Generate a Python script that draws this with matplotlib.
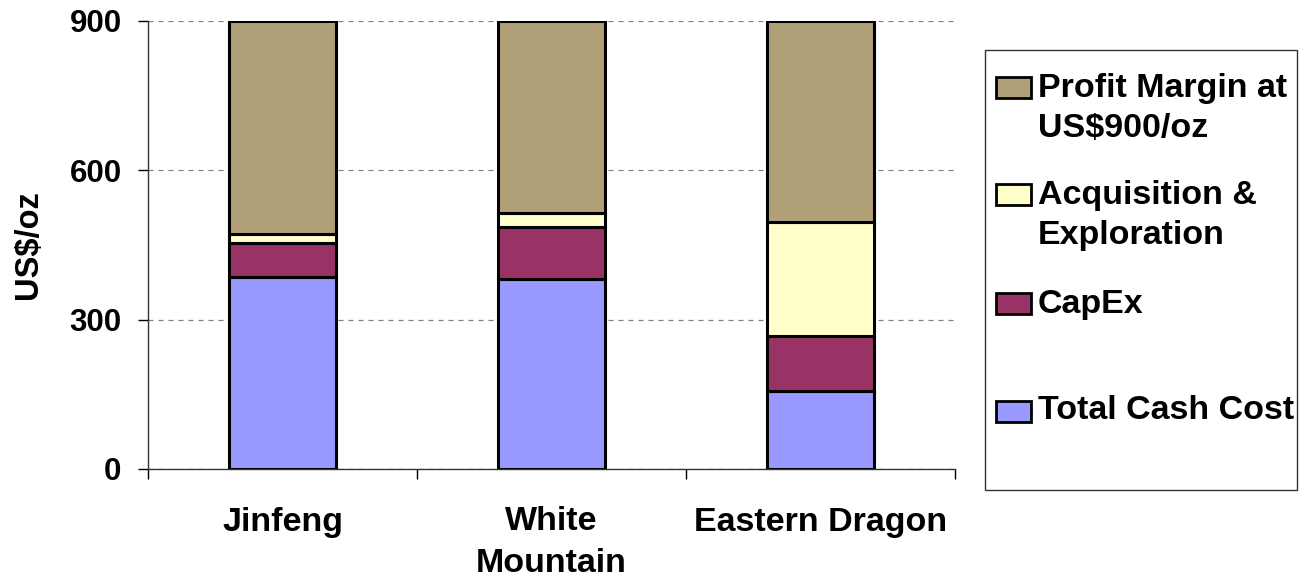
import numpy as np
import matplotlib.pyplot as plt
from matplotlib.patches import Rectangle

plt.rcParams['font.family'] = ['Liberation Sans', 'DejaVu Sans']
plt.rcParams['font.weight'] = 'bold'

# data (US$/oz)
mines = ["Jinfeng", "White\nMountain", "Eastern Dragon"]
cash_cost = [386, 382, 156]
capex = [68, 105, 111]
acq_expl = [18, 27, 230]
gold_price = 900
profit = [gold_price - (a + b + c) for a, b, c in zip(cash_cost, capex, acq_expl)]

series_names = ["Total Cash Cost", "CapEx", "Acquisition &\nExploration",
                "Profit Margin at\nUS$900/oz"]
series_vals = [cash_cost, capex, acq_expl, profit]
series_colors = ["#9999FF", "#993366", "#FFFFCC", "#B0A078"]

W, H = 1299, 577
fig = plt.figure(figsize=(W / 100, H / 100), dpi=100)
ax = fig.add_axes([148 / W, (H - 469) / H, 807 / W, 448 / H])

x = np.arange(len(mines))
bottom = np.zeros(len(mines))
for vals, col in zip(series_vals, series_colors):
    ax.bar(x, vals, width=0.4, bottom=bottom, color=col, edgecolor="black",
           linewidth=2.2, zorder=3)
    bottom += np.array(vals)

ax.set_xlim(-0.5, len(mines) - 0.5)
ax.set_ylim(0, 900)
ax.set_yticks([0, 300, 600, 900])
ax.yaxis.grid(True, linestyle=(0, (4, 4)), color="#808080", linewidth=0.9, zorder=0)
ax.set_xticks(x)
ax.set_xticklabels(mines, fontsize=24.5, fontweight="bold", linespacing=1.42)
ax.set_xticks(np.arange(-0.5, len(mines)), minor=True)
ax.tick_params(axis="x", which="major", length=0, pad=27)
ax.tick_params(axis="x", which="minor", length=7, width=1, direction="out")
ax.tick_params(axis="y", length=7, width=1, pad=12, labelsize=22.5)
for lab in ax.get_yticklabels():
    lab.set_fontweight("bold")
ax.set_ylabel("US$/oz", fontsize=23.5, fontweight="bold", labelpad=18)

for s in ["top", "right"]:
    ax.spines[s].set_visible(False)
for s in ["left", "bottom"]:
    ax.spines[s].set_color("#333333")
    ax.spines[s].set_linewidth(1)

# legend box drawn in figure pixel coordinates like the original
def fx(px):
    return px / W

def fy(py):
    return 1 - py / H

fig.patches.append(Rectangle((fx(985), fy(490)), fx(1297) - fx(985), fy(50) - fy(490),
                             transform=fig.transFigure, facecolor="white",
                             edgecolor="#333333", linewidth=1))

legend_rows = [  # (patch top px, baseline of last text line px)
    (77, 137),
    (184, 244),
    (293, 313),
    (401, 419),
]
order = [3, 2, 1, 0]
for (ptop, base), idx in zip(legend_rows, order):
    fig.patches.append(Rectangle((fx(996), fy(ptop + 21)), fx(1031) - fx(996),
                                 fy(ptop) - fy(ptop + 21), transform=fig.transFigure,
                                 facecolor=series_colors[idx], edgecolor="black",
                                 linewidth=2))
    fig.text(fx(1038), fy(base), series_names[idx], fontsize=24.5, fontweight="bold",
             va="baseline", ha="left", linespacing=1.36)

fig.savefig("out.png", dpi=100)
